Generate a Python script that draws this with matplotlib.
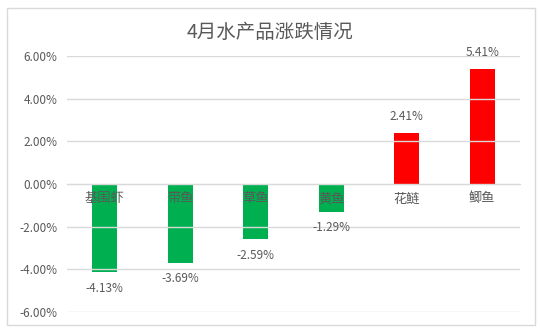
import matplotlib
matplotlib.use("Agg")
import matplotlib.pyplot as plt
from matplotlib.patches import Rectangle
from matplotlib.ticker import FuncFormatter

plt.rcParams['font.family'] = ['Noto Sans CJK SC', 'DejaVu Sans']

categories = ['基围虾', '带鱼', '草鱼', '黄鱼', '花鲢', '鲫鱼']
values = [-4.13, -3.69, -2.59, -1.29, 2.41, 5.41]
yticks = [-6, -4, -2, 0, 2, 4, 6]
title = '4月水产品涨跌情况'

gray = '#595959'
colors = ['#00B050' if v < 0 else '#FF0000' for v in values]

fig = plt.figure(figsize=(5.4, 3.29), dpi=100)
fig.patches.append(Rectangle((7/540, 1-325/329), 528/540, 317/329, transform=fig.transFigure,
                             fill=False, edgecolor='#D9D9D9', linewidth=1))
ax = fig.add_axes([67/540, 1-312/329, 453/540, 256/329])
x = list(range(len(categories)))
ax.bar(x, values, width=0.33, color=colors, zorder=2)
ax.set_xlim(-0.5, len(categories)-0.5)
ax.set_ylim(-6, 6)
ax.set_yticks(yticks)
ax.yaxis.set_major_formatter(FuncFormatter(lambda v, p: f'{v:.2f}%'))
ax.grid(axis='y', color='#D9D9D9', linewidth=1, zorder=0)
for s in ['top', 'right', 'left']:
    ax.spines[s].set_visible(False)
ax.spines['bottom'].set_position(('data', 0))
ax.spines['bottom'].set_color('#D9D9D9')
ax.spines['bottom'].set_zorder(1)
ax.set_xticks(x)
ax.set_xticklabels(categories)
ax.tick_params(axis='x', length=0, pad=6, labelsize=9.5, labelcolor=gray)
ax.tick_params(axis='y', length=0, pad=7, labelsize=8.5, labelcolor=gray)
for lbl in ax.get_xticklabels():
    lbl.set_zorder(3)
ax.set_axisbelow(False)
for xi, v in zip(x, values):
    off = 11.5 if v > 0 else -11.5
    ax.annotate(f'{v:.2f}%', (xi, v), xytext=(0, off), textcoords='offset points',
                ha='center', va='center', fontsize=8.5, color=gray)
fig.text(0.5, 1-32/329, title, ha='center', va='center', fontsize=14, color=gray)
fig.savefig('out.png', dpi=100)
